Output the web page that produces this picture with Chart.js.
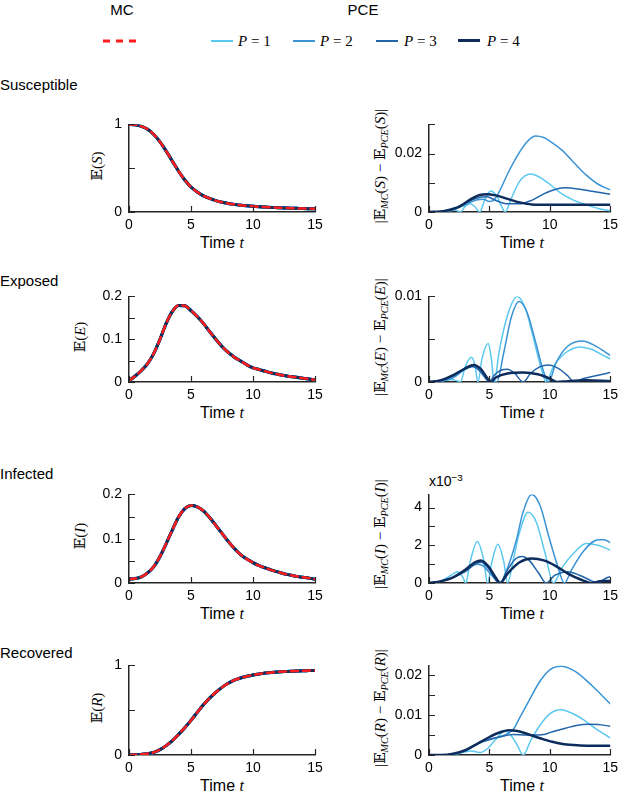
<!DOCTYPE html>
<html lang="en">
<head>
<meta charset="UTF-8">
<title>SEIR expectations: MC vs PCE</title>
<script src="https://cdn.jsdelivr.net/npm/chart.js"></script>
<style>
  body, html { margin: 0; padding: 0; background: #fff; overflow: hidden; }
  #page { position: relative; width: 623px; height: 792px; font-family: 'Liberation Sans', Arial, sans-serif; color: #000; }
  .txt { position: absolute; white-space: nowrap; line-height: 1; }
  .hd { font-size: 15px; transform: translate(-50%, -50%); }
  .row { font-size: 15px; left: 0; transform: translateY(-50%); }
  .xt { font-size: 16px; transform: translate(-50%, -50%); }
  .yl { font-family: 'Liberation Serif', 'DejaVu Serif', serif; font-size: 15px; transform: translate(-50%, -50%) rotate(-90deg); }
  .lg { font-family: 'Liberation Serif', 'DejaVu Serif', serif; font-size: 15px; transform: translateY(-50%); }
  .m { font-style: italic; font-family: 'Liberation Serif', 'DejaVu Serif', serif; }
  sub { font-size: 0.68em; vertical-align: -0.3em; line-height: 0; }
  sup { font-size: 0.7em; vertical-align: 0.5em; line-height: 0; }
  canvas { position: absolute; }
  .sw { position: absolute; width: 22px; height: 0; }
</style>
</head>
<body>
<div id="page">
  <div class="txt hd" style="left:122px;top:9px">MC</div>
  <div class="txt hd" style="left:363px;top:9px">PCE</div>

  <svg style="position:absolute;left:103px;top:38px" width="36" height="6">
    <line x1="0" y1="3" x2="36" y2="3" stroke="#ff1c1c" stroke-width="3" stroke-dasharray="7,6"/>
  </svg>
  <div class="sw" style="left:211px;top:40px;border-top:2px solid #5bc8f0"></div>
  <div class="txt lg" style="left:238px;top:41px"><span class="m">P</span> = 1</div>
  <div class="sw" style="left:293px;top:40px;border-top:2px solid #3a93d5"></div>
  <div class="txt lg" style="left:320px;top:41px"><span class="m">P</span> = 2</div>
  <div class="sw" style="left:376px;top:40px;border-top:2px solid #2265ab"></div>
  <div class="txt lg" style="left:404px;top:41px"><span class="m">P</span> = 3</div>
  <div class="sw" style="left:458px;top:39px;border-top:3px solid #0d2c5c"></div>
  <div class="txt lg" style="left:487px;top:41px"><span class="m">P</span> = 4</div>

  <div class="txt row" style="top:84px">Susceptible</div>
  <div class="txt row" style="top:280px">Exposed</div>
  <div class="txt row" style="top:473px">Infected</div>
  <div class="txt row" style="top:652px">Recovered</div>

  <div class="txt yl" style="left:97px;top:166px">𝔼(<span class="m">S</span>)</div>
  <div class="txt yl" style="left:80px;top:337px">𝔼(<span class="m">E</span>)</div>
  <div class="txt yl" style="left:80px;top:536px">𝔼(<span class="m">I</span>)</div>
  <div class="txt yl" style="left:97px;top:708px">𝔼(<span class="m">R</span>)</div>

  <div class="txt yl" style="left:380px;top:166px">|𝔼<sub class="m">MC</sub>(<span class="m">S</span>) − 𝔼<sub class="m">PCE</sub>(<span class="m">S</span>)|</div>
  <div class="txt yl" style="left:380px;top:337px">|𝔼<sub class="m">MC</sub>(<span class="m">E</span>) − 𝔼<sub class="m">PCE</sub>(<span class="m">E</span>)|</div>
  <div class="txt yl" style="left:380px;top:534px">|𝔼<sub class="m">MC</sub>(<span class="m">I</span>) − 𝔼<sub class="m">PCE</sub>(<span class="m">I</span>)|</div>
  <div class="txt yl" style="left:380px;top:708px">|𝔼<sub class="m">MC</sub>(<span class="m">R</span>) − 𝔼<sub class="m">PCE</sub>(<span class="m">R</span>)|</div>

  <div class="txt" style="left:429px;top:474px;font-size:14px">x10<sup>−3</sup></div>

  <div class="txt xt" style="left:222px;top:243px">Time <span class="m">t</span></div>
  <div class="txt xt" style="left:522px;top:243px">Time <span class="m">t</span></div>
  <div class="txt xt" style="left:222px;top:413px">Time <span class="m">t</span></div>
  <div class="txt xt" style="left:522px;top:413px">Time <span class="m">t</span></div>
  <div class="txt xt" style="left:222px;top:614px">Time <span class="m">t</span></div>
  <div class="txt xt" style="left:522px;top:614px">Time <span class="m">t</span></div>
  <div class="txt xt" style="left:222px;top:786px">Time <span class="m">t</span></div>
  <div class="txt xt" style="left:522px;top:786px">Time <span class="m">t</span></div>

  <canvas id="cS"></canvas><canvas id="eS"></canvas>
  <canvas id="cE"></canvas><canvas id="eE"></canvas>
  <canvas id="cI"></canvas><canvas id="eI"></canvas>
  <canvas id="cR"></canvas><canvas id="eR"></canvas>
</div>

<script>
// time grid of the expectation curves
const times = [0, 0.5, 1, 1.5, 2, 2.5, 3, 3.5, 4, 4.5, 5, 5.5, 6, 6.5, 7, 7.5, 8, 8.5, 9, 9.5, 10,
               10.5, 11, 11.5, 12, 12.5, 13, 13.5, 14, 14.5, 15];

// MC expectations (PCE curves lie on top of them)
const mcS = [1.000, 0.995, 0.978, 0.945, 0.885, 0.800, 0.695, 0.580, 0.465, 0.365, 0.285, 0.228, 0.185, 0.155, 0.130, 0.112,
             0.098, 0.087, 0.078, 0.071, 0.065, 0.060, 0.056, 0.052, 0.049, 0.046, 0.044, 0.042, 0.040, 0.038, 0.036];
const mcE = [0.003, 0.014, 0.027, 0.043, 0.067, 0.100, 0.137, 0.165, 0.179, 0.178, 0.167, 0.153, 0.137, 0.118, 0.100, 0.083,
             0.069, 0.058, 0.049, 0.040, 0.033, 0.029, 0.025, 0.021, 0.018, 0.015, 0.013, 0.011, 0.009, 0.007, 0.005];
const mcI = [0.009, 0.010, 0.014, 0.023, 0.037, 0.060, 0.089, 0.120, 0.149, 0.168, 0.175, 0.172, 0.163, 0.148, 0.130, 0.112,
             0.094, 0.078, 0.064, 0.054, 0.046, 0.039, 0.034, 0.029, 0.025, 0.021, 0.018, 0.015, 0.013, 0.011, 0.0085];
const mcR = [0.000, 0.002, 0.007, 0.015, 0.030, 0.060, 0.105, 0.160, 0.230, 0.305, 0.386, 0.475, 0.560, 0.635, 0.700, 0.755,
             0.800, 0.835, 0.860, 0.878, 0.893, 0.905, 0.915, 0.922, 0.927, 0.931, 0.934, 0.937, 0.940, 0.942, 0.944];

// absolute errors |E_MC - E_PCE|, [t, value]
const errS_P1 = [[0,0],[1,0.0001],[1.8,0.0005],[2.2,0.0006],[2.6,0],[3.0,0.002],[3.4,0.0028],[3.8,0.0018],[4.2,0],[4.6,0.004],
                 [5.1,0.0072],[5.6,0.0055],[6.0,0.002],[6.3,0],[6.8,0.0045],[7.5,0.0105],[8.4,0.013],[9.2,0.0118],[10,0.0095],
                 [11,0.0062],[12,0.004],[13,0.0025],[14,0.0012],[15,0.0004]];
const errS_P2 = [[0,0],[1,0.0001],[2,0.0008],[3,0.0025],[4,0.0042],[4.5,0.0044],[5.0,0.0036],[5.4,0.0042],[5.8,0.0068],[6.5,0.013],
                 [7,0.017],[7.5,0.0205],[8,0.0235],[8.8,0.026],[9.5,0.0255],[10,0.0243],[11,0.0212],[12,0.0169],[13,0.0127],
                 [14,0.0095],[15,0.0076]];
const errS_P3 = [[0,0],[1,0.0002],[2,0.001],[3,0.003],[4,0.0048],[4.8,0.0052],[5.5,0.004],[6.5,0.0028],[7.5,0.0028],[8.5,0.004],
                 [9.5,0.0062],[10.5,0.0078],[11.3,0.0083],[12.5,0.0078],[13.5,0.0071],[15,0.0061]];
const errS_P4 = [[0,0],[1,0.0002],[1.5,0.0005],[2.5,0.0018],[3.5,0.0045],[4.2,0.0058],[4.8,0.0061],[5.5,0.0057],[6.5,0.0045],
                 [7.5,0.0033],[8.5,0.0026],[10,0.0025],[12,0.0025],[15,0.0025]];

const errE_P1 = [[0,0],[1,0.0001],[1.8,0.0003],[2.4,0.0001],[2.6,0],[3.0,0.0018],[3.5,0.0029],[3.8,0.002],[4.05,0],[4.4,0.0028],
                 [4.9,0.0045],[5.15,0.0028],[5.4,0],[5.8,0.0035],[6.5,0.0078],[7.3,0.01],[8,0.0085],[8.7,0.0048],[9.3,0.0015],
                 [9.7,0],[10.3,0.0018],[11.2,0.0033],[12.5,0.0041],[13.5,0.0038],[14.3,0.0032],[15,0.0027]];
const errE_P2 = [[0,0],[1,0.0001],[2,0.0005],[3,0.0015],[3.6,0.0018],[4.3,0.0012],[4.8,0.0003],[5.2,0.0002],[5.6,0],[6.2,0.0035],
                 [6.8,0.0075],[7.45,0.0094],[8.1,0.0082],[8.8,0.0048],[9.4,0.0016],[9.9,0],[10.5,0.0022],[11.5,0.0042],
                 [12.7,0.0048],[13.8,0.0042],[15,0.0031]];
const errE_P3 = [[0,0],[1,0.0002],[2,0.0007],[3,0.0015],[3.6,0.0018],[4.2,0.0013],[4.7,0.0004],[5.0,0],[5.4,0.0008],[6.0,0.0014],
                 [6.5,0.0015],[7.1,0.001],[7.8,0],[8.4,0.001],[9.2,0.0018],[9.9,0.002],[10.7,0.0016],[11.5,0.0007],[12.0,0],
                 [12.8,0.0004],[14,0.0008],[15,0.0011]];
const errE_P4 = [[0,0],[1,0.0002],[2,0.0008],[3,0.0016],[3.7,0.002],[4.3,0.0015],[4.8,0.0005],[5.1,0],[5.5,0.0005],[6.5,0.001],
                 [7.8,0.0011],[9,0.0009],[10,0.0004],[10.6,0],[11.5,0.0001],[13,0.0002],[15,0.0001]];

const errI_P1 = [[0,0],[1,0.0001],[1.8,0.0004],[2.4,0.0006],[2.8,0.0003],[3.05,0],[3.4,0.0011],[4.0,0.0022],[4.5,0.0013],[4.85,0],
                 [5.2,0.0011],[5.7,0.00205],[6.2,0.0011],[6.5,0],[7,0.0013],[7.5,0.0027],[8.2,0.00375],[8.9,0.0032],
                 [9.6,0.0016],[10.3,0],[11,0.0008],[12,0.0016],[13,0.0021],[14,0.002],[15,0.00175]];
const errI_P2 = [[0,0],[1,0.0001],[2,0.0003],[3,0.0007],[4,0.001],[4.5,0.0009],[5.2,0.0004],[5.9,0],[6.5,0.0008],[7.2,0.0022],
                 [7.8,0.0038],[8.5,0.0047],[9.2,0.0041],[9.9,0.0025],[10.6,0.001],[11.2,0],[11.8,0.0007],[12.8,0.0017],
                 [14,0.0023],[14.5,0.0023],[15,0.00215]];
const errI_P3 = [[0,0],[1,0.0001],[2,0.0003],[3,0.0006],[3.8,0.001],[4.3,0.0011],[5,0.0007],[5.6,0.0001],[5.9,0],[6.4,0.0006],
                 [7.2,0.0013],[7.7,0.0014],[8.3,0.0012],[9.1,0.0005],[9.7,0],[10.4,0.0004],[11.5,0.0006],[12.5,0.0004],
                 [13.5,0.0001],[14,0],[14.5,0.0002],[15,0.00035]];
const errI_P4 = [[0,0],[1,0.0001],[2,0.0003],[3,0.0007],[3.8,0.0011],[4.3,0.0012],[4.9,0.0009],[5.5,0.0003],[5.9,0],[6.5,0.0005],
                 [7.5,0.0011],[8.5,0.0013],[9.5,0.0012],[10.5,0.0009],[11.5,0.0005],[12.5,0.0002],[13.5,0],[14.3,0.0001],[15,0.0001]];

const errR_P1 = [[0,0],[2,0.0001],[3,0.0008],[3.5,0.001],[4.2,0.0006],[4.8,0.0015],[5.5,0.0038],[6.3,0.006],[6.8,0.0048],
                 [7.3,0.0025],[7.8,0],[8.4,0.0035],[9.2,0.0075],[10,0.0103],[10.9,0.0113],[11.8,0.0105],[12.8,0.0088],
                 [13.8,0.0066],[15,0.0043]];
const errR_P2 = [[0,0],[1,0],[2,0.0002],[3,0.001],[4,0.0028],[5,0.004],[5.8,0.0045],[6.3,0.005],[7,0.0065],[7.5,0.0093],
                 [8.1,0.0126],[9.2,0.0185],[10,0.0213],[10.9,0.0222],[12.1,0.0209],[13.5,0.0173],[15,0.0128]];
const errR_P3 = [[0,0],[1,0],[2,0.0002],[3,0.001],[4,0.0028],[5,0.0038],[6,0.0046],[7,0.0051],[8,0.005],[9,0.005],[9.5,0.0051],
                 [10,0.0056],[11.3,0.0067],[12.2,0.0074],[13.2,0.0077],[14,0.0076],[15,0.0072]];
const errR_P4 = [[0,0],[1,0],[2,0.0003],[3,0.0012],[4,0.0028],[5,0.0045],[6,0.0058],[6.6,0.0062],[7.3,0.006],[8.2,0.0052],
                 [9.2,0.0042],[10.2,0.0033],[11.2,0.0027],[12.5,0.0024],[13.5,0.0023],[15,0.0023]];

// ticks
const xTicks = [0, 5, 10, 15];
const ticksSR = [0, 0.5, 1];                 const labelsSR = ['0', '', '1'];
const ticksEI = [0, 0.05, 0.1, 0.15, 0.2];   const labelsEI = ['0', '', '0.1', '', '0.2'];
const errTicksS = [0, 0.01, 0.02, 0.03];     const errLabelsS = ['0', '', '0.02', ''];
const errTicksE = [0, 0.005, 0.01];          const errLabelsE = ['0', '', '0.01'];
const errTicksI = [0, 0.001, 0.002, 0.003, 0.004]; const errLabelsI = ['0', '', '2', '', '4'];
const errTicksR = [0, 0.005, 0.01, 0.015, 0.02];   const errLabelsR = ['0', '', '0.01', '', '0.02'];

const colP = ['#5bc8f0', '#3a93d5', '#2265ab', '#0d2c5c'];
const colMC = '#ff1c1c';
const axisColor = '#262626';

// MATLAB-like inward tick marks
const innerTicks = {
  id: 'innerTicks',
  afterDraw(chart) {
    const { ctx, chartArea: a, scales: { x, y } } = chart;
    ctx.save();
    ctx.strokeStyle = axisColor;
    ctx.lineWidth = 1.2;
    ctx.beginPath();
    x.ticks.forEach(t => {
      const px = Math.round(x.getPixelForValue(t.value)) + 0.5;
      ctx.moveTo(px, a.bottom); ctx.lineTo(px, a.bottom - 6);
    });
    y.ticks.forEach(t => {
      const py = Math.round(y.getPixelForValue(t.value)) + 0.5;
      ctx.moveTo(a.left, py); ctx.lineTo(a.left + 6, py);
    });
    ctx.stroke();
    ctx.restore();
  }
};

function placeCanvas(id, left, width, top, bottom) {
  const c = document.getElementById(id);
  c.width = width;
  c.height = bottom - top + 40;
  c.style.left = left + 'px';
  c.style.top = (top - 10) + 'px';
  return c;
}

function panel(c, datasets, yMax, yTicks, yLabels, yWidth, padRight) {
  return new Chart(c, {
    type: 'line',
    data: { datasets },
    options: {
      responsive: false,
      animation: false,
      devicePixelRatio: 1,
      layout: { padding: { top: 10, right: padRight, left: 0, bottom: 0 } },
      plugins: { legend: { display: false }, tooltip: { enabled: false } },
      elements: { point: { radius: 0 }, line: { cubicInterpolationMode: 'monotone', borderCapStyle: 'round' } },
      scales: {
        x: {
          type: 'linear', min: 0, max: 15,
          grid: { display: false, drawTicks: false },
          border: { display: true, color: axisColor, width: 1.5 },
          afterBuildTicks: s => { s.ticks = xTicks.map(v => ({ value: v })); },
          afterFit: s => { s.height = 30; },
          ticks: { padding: 5, color: '#000', maxRotation: 0, autoSkip: false,
                   font: { size: 14, family: "'Liberation Sans', Arial, sans-serif" },
                   callback: v => String(v) }
        },
        y: {
          type: 'linear', min: 0, max: yMax,
          grid: { display: false, drawTicks: false },
          border: { display: true, color: axisColor, width: 1.5 },
          afterBuildTicks: s => { s.ticks = yTicks.map(v => ({ value: v })); },
          afterFit: s => { s.width = yWidth; },
          ticks: { padding: 7, color: '#000', autoSkip: false,
                   font: { size: 14, family: "'Liberation Sans', Arial, sans-serif" },
                   callback: (v, i) => yLabels[i] }
        }
      }
    },
    plugins: [innerTicks]
  });
}

// Chart.js paints dataset 0 last (on top), so the lists go top-most first:
// MC dashed, then P = 4 ... P = 1
function meanSets(mc) {
  const pts = () => times.map((t, i) => ({ x: t, y: mc[i] }));
  const sets = [{ data: pts(), borderColor: colMC, borderWidth: 2.5, borderDash: [7, 5], fill: false }];
  for (let k = 3; k >= 0; k--) {
    sets.push({ data: pts(), borderColor: colP[k], borderWidth: 3, fill: false });
  }
  return sets;
}

function errSets(list) {
  const sets = [];
  for (let k = 3; k >= 0; k--) {
    sets.push({
      data: list[k].map(p => ({ x: p[0], y: p[1] })),
      borderColor: colP[k],
      borderWidth: k === 3 ? 2.5 : 1.5,
      fill: false
    });
  }
  return sets;
}

const rows = [[119, 212], [291, 382], [489, 583], [660, 755]];

panel(placeCanvas('cS', 60, 270, rows[0][0], rows[0][1]), meanSets(mcS), 1, ticksSR, labelsSR, 69, 15);
panel(placeCanvas('cE', 60, 270, rows[1][0], rows[1][1]), meanSets(mcE), 0.2, ticksEI, labelsEI, 69, 15);
panel(placeCanvas('cI', 60, 270, rows[2][0], rows[2][1]), meanSets(mcI), 0.2, ticksEI, labelsEI, 69, 15);
panel(placeCanvas('cR', 60, 270, rows[3][0], rows[3][1]), meanSets(mcR), 1, ticksSR, labelsSR, 69, 15);

panel(placeCanvas('eS', 338, 285, rows[0][0], rows[0][1]), errSets([errS_P1, errS_P2, errS_P3, errS_P4]), 0.03, errTicksS, errLabelsS, 91, 7);
panel(placeCanvas('eE', 338, 285, rows[1][0], rows[1][1]), errSets([errE_P1, errE_P2, errE_P3, errE_P4]), 0.01, errTicksE, errLabelsE, 91, 7);
panel(placeCanvas('eI', 338, 285, rows[2][0], rows[2][1]), errSets([errI_P1, errI_P2, errI_P3, errI_P4]), 0.0047, errTicksI, errLabelsI, 91, 7);
panel(placeCanvas('eR', 338, 285, rows[3][0], rows[3][1]), errSets([errR_P1, errR_P2, errR_P3, errR_P4]), 0.0224, errTicksR, errLabelsR, 91, 7);
</script>
</body>
</html>
